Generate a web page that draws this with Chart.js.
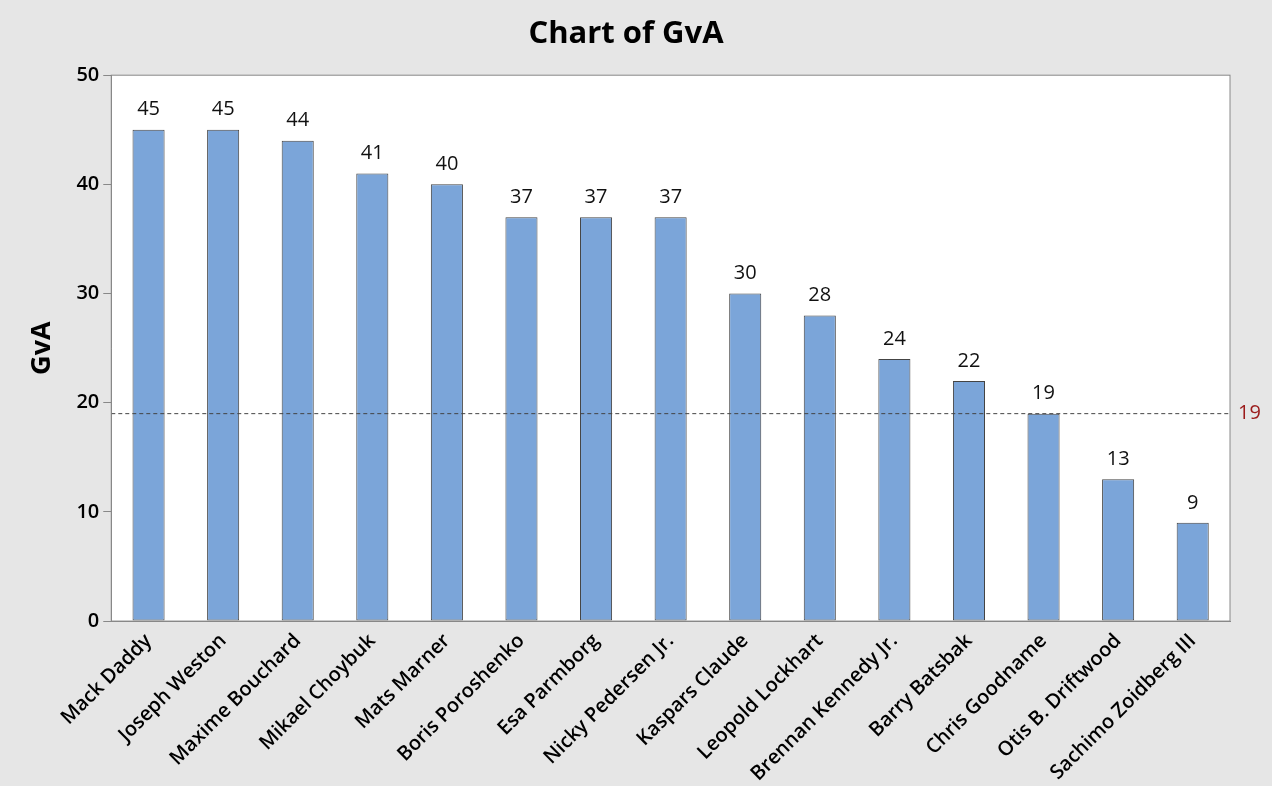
<!DOCTYPE html>
<html><head><meta charset="utf-8">
<script src="https://cdn.jsdelivr.net/npm/chart.js@4/dist/chart.umd.min.js"></script>
<style>
html,body{margin:0;background:#e6e6e6;}
#wrap{position:relative;width:1272px;height:786px;}
</style></head><body>
<div id="wrap"><canvas id="c" width="1272" height="786"></canvas></div>
<script>
const names = ['Mack Daddy','Joseph Weston','Maxime Bouchard','Mikael Choybuk','Mats Marner','Boris Poroshenko','Esa Parmborg','Nicky Pedersen Jr.','Kaspars Claude','Leopold Lockhart','Brennan Kennedy Jr.','Barry Batsbak','Chris Goodname','Otis B. Driftwood','Sachimo Zoidberg III'];
const gva = [45,45,44,41,40,37,37,37,30,28,24,22,19,13,9];
const refValue = 19;
const yTicks = [0,10,20,30,40,50];

const extras = {
  id: 'extras',
  beforeDraw(chart) {
    const a = chart.chartArea, ctx = chart.ctx;
    ctx.save();
    ctx.fillStyle = '#fff';
    ctx.fillRect(a.left, a.top, a.right - a.left, a.bottom - a.top);
    ctx.restore();
  },
  afterDatasetsDraw(chart) {
    const ctx = chart.ctx, a = chart.chartArea, y = chart.scales.y;
    const meta = chart.getDatasetMeta(0);
    ctx.save();
    ctx.font = '20px "Open Sans", sans-serif';
    ctx.fillStyle = '#111';
    ctx.textAlign = 'center';
    ctx.textBaseline = 'bottom';
    meta.data.forEach((b, i) => ctx.fillText(gva[i], b.x, b.y - 10));
    const ry = y.getPixelForValue(refValue);
    ctx.strokeStyle = '#444';
    ctx.lineWidth = 1;
    ctx.setLineDash([4, 3]);
    ctx.beginPath(); ctx.moveTo(a.left, ry); ctx.lineTo(a.right, ry); ctx.stroke();
    ctx.setLineDash([]);
    ctx.fillStyle = '#9b1b1b';
    ctx.textAlign = 'left';
    ctx.textBaseline = 'middle';
    ctx.fillText(refValue, a.right + 8, ry);
    ctx.strokeStyle = '#888';
    ctx.strokeRect(a.left, a.top, a.right - a.left, a.bottom - a.top);
    ctx.restore();
  }
};

new Chart(document.getElementById('c'), {
  type: 'bar',
  data: { labels: names, datasets: [{ data: gva, backgroundColor: '#7ba5d9', borderColor: '#444', borderWidth: 1, borderSkipped: false, categoryPercentage: 1, barPercentage: 0.43 }] },
  options: {
    responsive: false, animation: false,
    layout: { padding: { left: 22, right: 42, top: 0, bottom: 0 } },
    plugins: {
      legend: { display: false }, tooltip: { enabled: false },
      title: { display: true, text: 'Chart of GvA', color: '#000', font: { family: '"Open Sans", sans-serif', size: 31, weight: 'bold' }, padding: { top: 16, bottom: 22 } }
    },
    scales: {
      x: {
        grid: { display: false, drawTicks: true, tickLength: 8, color: '#888' },
        border: { color: '#888' },
        ticks: { color: '#000', font: { family: '"Open Sans", sans-serif', size: 20, weight: '600' }, maxRotation: 45, minRotation: 45, autoSkip: false, padding: 0 }
      },
      y: {
        min: 0, max: 50,
        afterBuildTicks(s) { s.ticks = yTicks.map(v => ({ value: v })); },
        grid: { display: true, drawOnChartArea: false, tickLength: 8, color: '#888' },
        border: { color: '#888' },
        ticks: { color: '#000', font: { family: '"Open Sans", sans-serif', size: 20, weight: '600' }, padding: 4 },
        title: { display: true, text: 'GvA', color: '#000', font: { family: '"Open Sans", sans-serif', size: 27, weight: 'bold' }, padding: { bottom: 14 } }
      }
    }
  },
  plugins: [extras]
});
</script>
</body></html>
